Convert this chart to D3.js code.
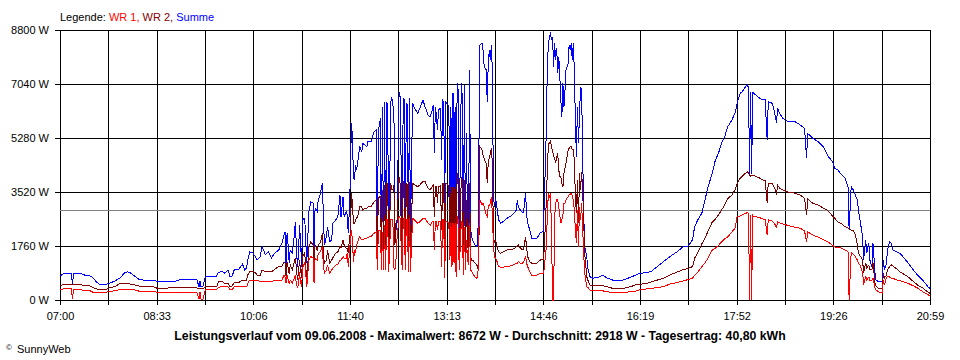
<!DOCTYPE html>
<html><head><meta charset="utf-8">
<script src="https://cdn.jsdelivr.net/npm/d3@7"></script>
<style>
html,body{margin:0;padding:0;background:#fff;}
svg{display:block;font-family:"Liberation Sans",Arial,sans-serif;color:#000;}
</style></head><body>
<svg id="chart" width="960" height="360"></svg>
<script>
// ---- data ----
const times = [
"07:00","07:03","07:11","07:12","07:13","07:21","07:24","07:29","07:32","07:35","07:38","07:44","07:48","07:53","07:58","08:02","08:05","08:08","08:12","08:16","08:20","08:30","08:34","08:53","08:56","09:12","09:14","09:15","09:16","09:18","09:20",
"09:27","09:31","09:33","09:37","09:39","09:42","09:44","09:46","09:48","09:52","09:56","09:58","10:00","10:01","10:03","10:06","10:08","10:10","10:13","10:15","10:18","10:21","10:24","10:27","10:31","10:34","10:36","10:37","10:38","10:39","10:40","10:41","10:42","10:44","10:46","10:47","10:48","10:49","10:50","10:51","10:52","10:53","10:54",
"10:56","10:58","11:00","11:02","11:04","11:05","11:06","11:08","11:09","11:11","11:13","11:14","11:15","11:17","11:18","11:20","11:22","11:23","11:26","11:28","11:30","11:31","11:33","11:34","11:36","11:37","11:38","11:39","11:40","11:41","11:42","11:43","11:44","11:45","11:46","11:47","11:49","11:51","11:52","11:54","11:56","11:57","12:00","12:02","12:03","12:05","12:06","12:07","12:08","12:09","12:10","12:11","12:12","12:13","12:14","12:15","12:16","12:17","12:19","12:20","12:21","12:22","12:23","12:24","12:25","12:27","12:28","12:30","12:31","12:32","12:33","12:34","12:35","12:36","12:37","12:38","12:40",
"12:42","12:45","12:47","12:50","12:52","12:55","12:57","12:59","13:00","13:01","13:02","13:03","13:04","13:05","13:07","13:08","13:09","13:10","13:11","13:12","13:13","13:15","13:16","13:17","13:18","13:19","13:20","13:21","13:22","13:23","13:24","13:25","13:27","13:28","13:29","13:30","13:31","13:32","13:33","13:34","13:35","13:36","13:37","13:38","13:40","13:42","13:43","13:44","13:45","13:47","13:48","13:49","13:50","13:51","13:52","13:53","13:54","13:55","13:56","13:57","13:58","13:59","14:00","14:01","14:03","14:05",
"14:07","14:11","14:14","14:17","14:20","14:21","14:22","14:24","14:26","14:27","14:29","14:30","14:31","14:33","14:35","14:40","14:43","14:46","14:47","14:49","14:50","14:51","14:52","14:53","14:54","14:55","14:56","14:57","14:58","14:59","15:00","15:01","15:02","15:03","15:04","15:05","15:06","15:07","15:08","15:10","15:11","15:12","15:13","15:14","15:15","15:16","15:17","15:18","15:19","15:20","15:21","15:22","15:23","15:24","15:25","15:26","15:28","15:29","15:31","15:34","15:41","15:43","15:48","15:53","16:03",
"16:10","16:15","16:19","16:26","16:31","16:36","16:42","16:48","16:55","17:01","17:06","17:10","17:12","17:15","17:19","17:22","17:25","17:29","17:32","17:35","17:38","17:41","17:44","17:48","17:51","17:53","17:56","17:58","18:01","18:03","18:04","18:05","18:06","18:07","18:08","18:09","18:12","18:15","18:18","18:20","18:22","18:23","18:27","18:30","18:31","18:32","18:34","18:37","18:42","18:49","18:54","18:58","19:00","19:01","19:06","19:11","19:16","19:21","19:25","19:27","19:30","19:34","19:37","19:40","19:41","19:43","19:45","19:47","19:49","19:50","19:52","19:53","19:54","19:55","19:57","19:58","20:00","20:01","20:03","20:04","20:06","20:07","20:09","20:13","20:14","20:15","20:17","20:18","20:20","20:22","20:23","20:27","20:30","20:33","20:38","20:43","20:47","20:52","20:57","20:59"
];
// WR 1 (W)
const wr1 = [
330,360,360,30,330,330,300,300,250,250,250,250,280,300,350,350,350,330,330,290,280,280,250,250,250,250,30,250,30,30,330,
330,330,420,430,430,430,330,330,430,430,430,430,430,540,650,650,650,650,600,600,600,600,600,650,650,650,810,750,550,810,680,550,650,550,720,810,490,420,490,910,590,430,1040,
1250,430,1300,1410,1370,540,1370,1300,1520,1570,1740,1140,870,980,1140,870,980,1030,1140,1170,1300,1300,1410,1370,1360,1530,1090,1470,1960,2280,1960,1240,1630,1530,1790,1900,2060,1960,1960,2010,2010,2050,2060,2150,2180,2230,980,2230,2280,2280,980,2220,980,2440,980,2610,2610,910,2610,2610,2610,1040,980,1300,2000,2720,2660,980,2660,2670,980,2610,2610,920,2660,920,2660,
2610,2500,2550,2660,2660,2510,2440,2550,2550,1630,2550,2550,2280,2550,2550,1090,2610,2610,710,2550,2550,2500,1300,2500,1090,2500,1210,2500,760,2720,2610,980,2550,2510,810,2390,980,1960,1300,1140,2500,980,920,870,760,710,760,2280,3260,3100,3150,3040,2930,2770,2720,3040,3100,3150,3370,2770,1740,1410,1370,1300,1090,1070,
1070,1090,1110,1140,1200,1200,1250,1200,1200,1240,1410,1200,1090,920,810,810,870,870,1030,1740,2830,3480,3370,3470,2280,0,0,2720,3150,3260,3260,3040,2770,2500,2610,2770,3150,3150,3260,3370,3420,3450,3480,3390,3260,2930,2280,1850,2930,1740,3040,2610,3150,2390,1520,870,430,410,330,300,300,300,270,240,240,
270,290,330,360,380,410,430,520,570,620,670,710,810,910,1090,1210,1370,1630,1690,1780,1900,1990,2060,2220,2340,2720,2740,2770,2820,2850,2800,0,2770,0,2760,2720,2710,2680,2640,2640,2120,2610,2570,2440,2340,2550,2510,2480,2430,2370,2340,2250,1900,2220,2120,2050,1970,1890,1780,1730,1710,1690,1630,1570,0,1560,1500,1410,1300,1200,1110,980,910,490,780,650,750,650,650,720,380,330,270,220,650,490,720,760,750,710,710,650,630,600,540,460,390,270,180,130
];
// WR 2 (W)
const wr2 = [
460,510,510,510,490,490,460,460,410,360,340,340,400,440,540,540,540,520,490,460,430,430,380,400,400,400,360,390,360,360,430,
430,430,590,590,540,540,430,460,560,560,650,650,650,810,920,920,910,810,810,980,920,920,920,1000,1090,1090,1240,1210,780,1240,1040,850,1140,980,1240,1370,1040,650,910,1300,980,720,1430,
1530,650,1740,1900,1790,760,1790,1630,1790,1860,2170,1470,1200,1300,1630,1200,1300,1370,1530,1570,1740,1690,1960,1790,1690,1690,1520,1960,2170,3480,3150,2510,2500,2610,2670,2720,3040,3040,2930,2990,2990,3030,3040,3150,3200,3260,1530,3310,3360,3370,1630,3590,1530,3750,1470,3800,3800,1470,3800,3590,3590,3750,1800,2500,2600,4020,3800,1300,3860,3810,1300,3800,3780,1300,3860,1300,3800,
3750,3690,3750,3860,3860,3650,3590,3690,3750,2720,3690,3690,3150,3690,3720,2280,3800,3800,1850,3800,3800,3690,1630,3690,1410,3690,2280,3690,1200,4130,3910,1300,4020,3910,1200,3910,1300,3260,2060,1300,3800,1410,1300,1300,1210,1140,1030,1850,5000,4890,4730,4620,4510,4460,3800,4510,4620,4780,4940,4460,2060,1850,1960,1790,1570,1520,
1560,1630,1660,1660,1730,1740,1790,1690,1630,1630,2060,1690,1410,1250,1200,1200,1300,1330,1630,3260,4240,5110,5110,5200,4950,4890,4670,4630,4460,4630,4780,4240,4020,4020,3800,3690,4130,4300,4460,4890,4940,4990,5000,4890,4890,4560,3370,2830,3910,2500,4130,3590,4180,3590,2610,1520,760,650,490,470,470,470,430,380,380,
430,490,510,540,600,650,710,810,910,990,1030,1090,1360,1530,1830,2020,2250,2540,2640,2770,2930,3100,3310,3420,3590,3800,3970,4040,4130,4180,4140,4070,4040,4070,4070,4070,4010,3970,3910,3910,3150,3810,3800,3590,3420,3750,3640,3590,3520,3480,3420,3310,2770,3290,3150,3100,3000,2900,2740,2670,2550,2480,2390,2340,2310,2280,2280,2120,1790,1520,1410,1370,1300,870,1210,1040,1140,980,980,1210,540,460,380,380,870,720,810,980,1090,1140,1110,1010,920,860,750,600,490,390,260,220
];
// Summe (W)
const summe = [
780,850,850,490,850,850,810,780,720,590,520,500,550,620,720,880,920,880,780,680,650,650,600,620,680,680,420,620,420,460,750,
760,780,910,920,870,980,760,780,980,980,1170,980,1040,1300,1570,1530,1430,1300,1410,1740,1470,1570,1370,1530,1630,1850,2120,2230,1150,2180,1790,1210,1630,1530,2120,2550,1700,1090,1500,2450,1900,1090,2610,
2670,1210,2880,3200,3160,1740,3000,2880,3260,3450,3820,2720,1790,2090,2390,1900,1960,2500,2610,2720,3420,2720,3370,2720,2880,2770,2170,2930,3910,5760,5320,4000,3910,4400,4240,4460,5000,4830,5100,5050,5000,5160,5160,5380,5490,5540,1740,5540,5700,5920,1520,6300,1520,6460,1300,6460,6360,1300,6460,6610,6360,6190,2390,2280,2500,6760,6630,2280,6570,6520,2280,6410,6360,2230,6570,2230,6410,
6250,6090,6250,6520,6300,6030,5970,6190,6360,4780,6300,6030,5540,6190,6250,4560,6520,6460,3150,6460,6410,6300,2280,6300,1960,6740,2720,6300,1850,7060,6840,2060,7060,6630,1850,7010,2060,5430,2170,2060,7500,2280,2060,1960,1790,1740,1960,5000,8310,8370,8150,7660,7550,7500,6460,7710,8150,7820,8310,7390,3370,3040,3310,3100,2610,2500,
2550,2660,2720,2800,2930,3260,3040,2930,2840,2840,3490,2770,2510,2280,2010,2010,2180,2230,3160,5540,7710,8310,8580,8672,8470,8580,7600,8370,7820,8200,7390,7930,7280,6520,5970,7060,6300,6840,7500,7710,8310,8150,8370,7820,8370,7500,5870,4670,6300,5110,6090,6950,6840,4890,2840,1740,1410,1040,760,710,760,810,710,650,650,
740,810,870,890,950,1090,1250,1410,1570,1740,1760,1960,2390,2610,2830,3260,3690,4130,4560,4780,5110,5320,5650,5870,6090,6410,6750,6790,6950,7010,6910,4100,6790,4100,6760,6740,6650,6570,6520,6520,5210,6460,6410,5970,5760,6250,6090,5920,5810,5810,5700,5600,4620,5430,5270,5160,5000,4670,4510,4290,4240,4070,3970,3690,2280,3690,3590,3420,3260,2930,2500,2280,2060,1300,1960,1520,1850,1300,1090,1850,870,650,600,600,1300,980,1200,1630,1900,1850,1630,1570,1520,1410,1200,980,810,650,430,380
];
const xTickLabels = ["07:00","08:33","10:06","11:40","13:13","14:46","16:19","17:52","19:26","20:59"];
const yTickValues = [0, 1760, 3520, 5280, 7040, 8800];
const average = 2918;
const seriesNames = ["WR 1", "WR 2", "Summe"];
const seriesColors = ["#ff0000", "#800000", "#0000ff"];
const titleText = "Leistungsverlauf vom 09.06.2008 - Maximalwert: 8672 W - Durchschnitt: 2918 W - Tagesertrag: 40,80 kWh";

// ---- chart ----
const FONT = '"Liberation Sans", Arial, sans-serif';
const svg = d3.select("#chart");
svg.append("rect").attr("width", 960).attr("height", 360).attr("fill", "#fff");

const parse = d3.timeParse("%H:%M");
const L = 60, R = 930, T = 30, B = 300;
const x = d3.scaleTime().domain([parse(xTickLabels[0]), parse(xTickLabels[xTickLabels.length - 1])]).range([L, R]);
const y = d3.scaleLinear().domain([0, 8800]).range([B, T]);

const t0 = x.domain()[0].getTime(), t1 = x.domain()[1].getTime();
const gridTimes = d3.range(19).map(i => new Date(t0 + i * (t1 - t0) / 18));

function styleAxis(g) {
  g.attr("font-family", FONT).attr("font-size", 11);
  g.select(".domain").remove();
  g.selectAll("line").attr("stroke", "#000").attr("shape-rendering", "crispEdges");
  g.selectAll("text").attr("fill", "#000");
}

// grid via axes
svg.append("g").attr("transform", `translate(${L},0)`)
  .call(d3.axisLeft(y).tickValues(yTickValues).tickSize(-(R - L)).tickFormat(""))
  .call(styleAxis);
svg.append("g").attr("transform", `translate(0,${B})`)
  .call(d3.axisBottom(x).tickValues(gridTimes).tickSize(-(B - T)).tickFormat(""))
  .call(styleAxis);

// average line
svg.append("line")
  .attr("x1", L).attr("x2", R)
  .attr("y1", Math.round(y(average)) + 0.5).attr("y2", Math.round(y(average)) + 0.5)
  .attr("stroke", "#808080").attr("shape-rendering", "crispEdges");

// labelled axes
svg.append("g").attr("transform", `translate(${L},0)`)
  .call(d3.axisLeft(y).tickValues(yTickValues).tickSize(5).tickPadding(6).tickFormat(d => d + " W"))
  .call(styleAxis);
svg.append("g").attr("transform", `translate(0,${B})`)
  .call(d3.axisBottom(x).tickValues(gridTimes).tickSize(5).tickPadding(7)
    .tickFormat((d, i) => i % 2 === 0 ? xTickLabels[i / 2] : ""))
  .call(styleAxis);

// series
const n = Math.min(times.length, wr1.length, wr2.length, summe.length);
const rows = d3.range(n).map(i => ({ t: parse(times[i]), v: [wr1[i], wr2[i], summe[i]] }));
[2, 1, 0].forEach(k => {
  svg.append("path")
    .datum(rows)
    .attr("fill", "none")
    .attr("stroke", seriesColors[k])
    .attr("stroke-width", 1)
    .attr("shape-rendering", "crispEdges")
    .attr("d", d3.line().x(d => x(d.t)).y(d => y(d.v[k])));
});

// legend
const leg = svg.append("text").attr("x", 60).attr("y", 21)
  .attr("font-family", FONT).attr("font-size", 11);
leg.append("tspan").attr("fill", "#000").text("Legende: ");
seriesNames.forEach((s, i) => {
  leg.append("tspan").attr("fill", seriesColors[i]).text(s + (i < seriesNames.length - 1 ? ", " : ""));
});

// title
svg.append("text").attr("x", 480).attr("y", 340).attr("text-anchor", "middle")
  .attr("font-family", FONT).attr("font-size", 12.3).attr("font-weight", "bold")
  .attr("fill", "#000").text(titleText);

// copyright
svg.append("text").attr("x", 6).attr("y", 350).attr("font-family", FONT)
  .attr("font-size", 8).attr("fill", "#000").text("©");
svg.append("text").attr("x", 17).attr("y", 353).attr("font-family", FONT)
  .attr("font-size", 11).attr("fill", "#000").text("SunnyWeb");
</script>
</body></html>
